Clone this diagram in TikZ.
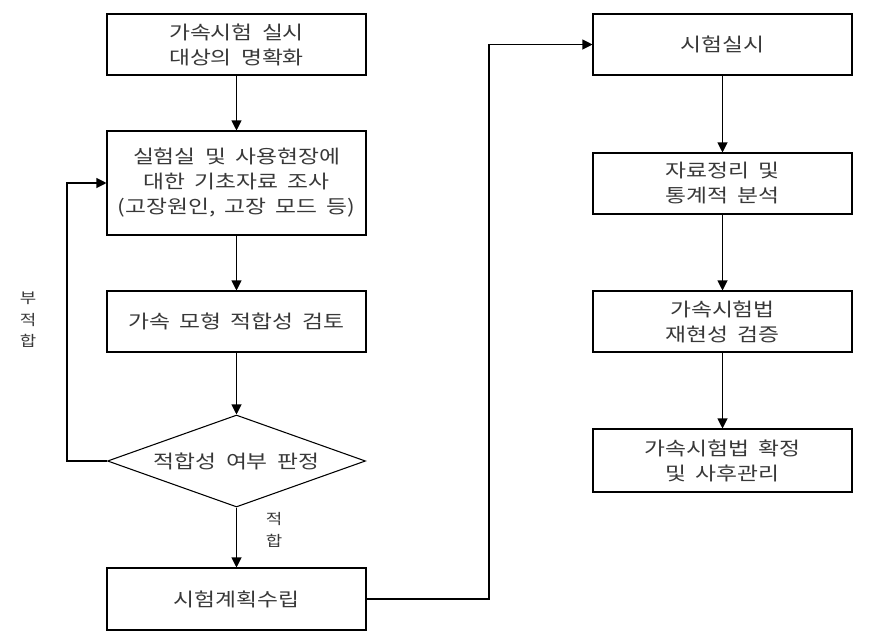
\documentclass[tikz,border=0pt]{standalone}
\usepackage{fontspec}
\setmainfont{Noto Sans CJK KR}[FakeStretch=1.22, WordSpace=1.8]
\usetikzlibrary{arrows.meta, shapes.geometric}
\definecolor{mygray}{rgb}{0.22,0.22,0.22}

\tikzset{
  box/.style={draw, line width=0.8pt, minimum width=194.25pt, inner sep=0pt,
    align=center, text=mygray, font=\fontsize{14}{18.75}\selectfont},
  arr/.style={-{Triangle[length=7.5pt, width=7.5pt]}, line width=0.8pt},
  side/.style={align=center, text=mygray, font=\fontsize{11}{16}\selectfont}
}

\begin{document}
\begin{tikzpicture}[x=0.75pt, y=-0.75pt]
        \useasboundingbox (0,0) rectangle (872,640);
        % left column
        \node[box, minimum height=45.75pt] (B1) at (236.5, 44.5) {가속시험 실시\\대상의 명확화};
        \node[box, minimum height=78pt] (B2) at (236.5, 183) {실험실 및 사용현장에\\대한 기초자료 조사\\(고장원인, 고장 모드 등)};
        \node[box, minimum height=45.75pt] (B3) at (236.5, 321.5) {가속 모형 적합성 검토};
        \node[draw, line width=0.8pt, diamond, aspect=2.8, inner sep=0pt,
              minimum width=193.5pt, minimum height=69pt, text=mygray,
              font=\fontsize{14}{18.75}\selectfont] (D1) at (236.5, 461) {적합성 여부 판정};
        \node[box, minimum height=46.5pt] (B5) at (236.5, 599) {시험계획수립};
        % right column
        \node[box, minimum height=45.75pt] (B6) at (722.5, 44.5) {시험실시};
        \node[box, minimum height=45.75pt] (B7) at (722.5, 183.5) {자료정리 및\\통계적 분석};
        \node[box, minimum height=45.75pt] (B8) at (722.5, 321.5) {가속시험법\\재현성 검증};
        \node[box, minimum height=47.25pt] (B9) at (722.5, 460.5) {가속시험법 확정\\및 사후관리};
        % labels
        \node[side] (NF) at (28, 320) {부\\적\\합};
        \node[side] (OK) at (274, 530) {적\\합};
        % connectors
        \coordinate[] (L1) at (67, 461);
        \coordinate[] (R1) at (489, 599);
        \draw[arr] (B1) -- (B2);
        \draw[arr] (B2) -- (B3);
        \draw[arr] (B3) -- (D1);
        \draw[arr] (D1) -- (B5);
        \draw[arr] (D1.west) -- (L1) |- (B2.west);
        \draw[arr] (B5.east) -- (R1) |- (B6.west);
        \draw[arr] (B6) -- (B7);
        \draw[arr] (B7) -- (B8);
        \draw[arr] (B8) -- (B9);
    \end{tikzpicture}
\end{document}
